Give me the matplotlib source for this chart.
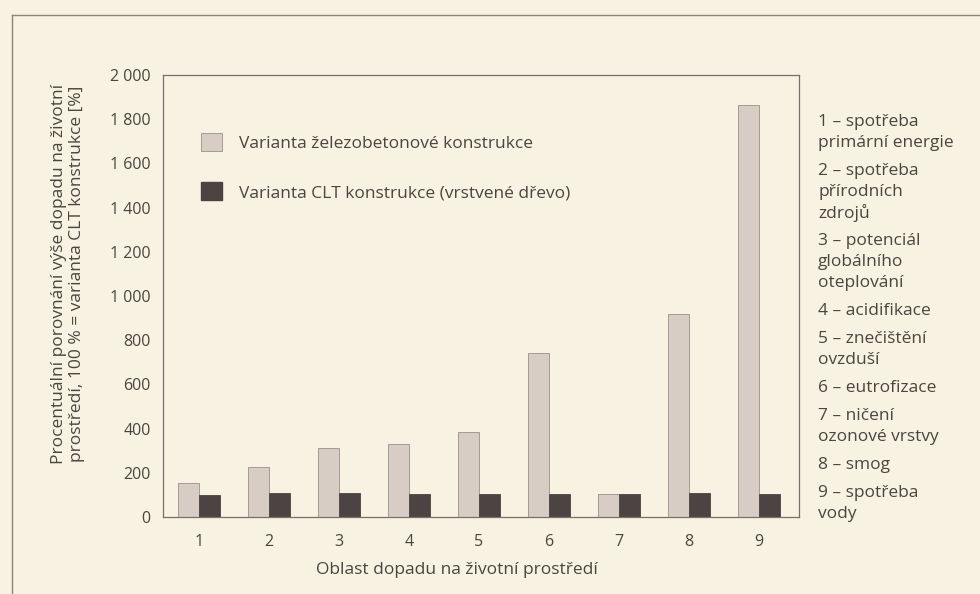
import matplotlib
matplotlib.use("Agg")
import matplotlib.pyplot as plt
import numpy as np
from matplotlib.patches import Patch
from matplotlib.lines import Line2D

categories = [1, 2, 3, 4, 5, 6, 7, 8, 9]
zelezobeton = [154, 226, 312, 330, 385, 742, 104, 918, 1864]
clt = [100, 108, 108, 106, 106, 106, 104, 108, 106]
y_ticks = [0, 200, 400, 600, 800, 1000, 1200, 1400, 1600, 1800, 2000]
y_tick_labels = ["0", "200", "400", "600", "800", "1 000", "1 200", "1 400",
                 "1 600", "1 800", "2 000"]
series_names = ["Varianta železobetonové konstrukce",
                "Varianta CLT konstrukce (vrstvené dřevo)"]
side_notes = [
    ["1 – spotřeba", "primární energie"],
    ["2 – spotřeba", "přírodních", "zdrojů"],
    ["3 – potenciál", "globálního", "oteplování"],
    ["4 – acidifikace"],
    ["5 – znečištění", "ovzduší"],
    ["6 – eutrofizace"],
    ["7 – ničení", "ozonové vrstvy"],
    ["8 – smog"],
    ["9 – spotřeba", "vody"],
]

plt.rcParams['font.family'] = ['Open Sans', 'DejaVu Sans']

bg = "#f7f2e1"
txt = "#4a4540"
spine_c = "#77716a"
light = "#d8cdc5"
light_edge = "#9a8f88"
dark = "#4b4442"
fs = 12.5

W, H = 980, 594
fig = plt.figure(figsize=(W / 100, H / 100), dpi=100, facecolor=bg)

# outer frame (only left and top are visible)
fig.add_artist(Line2D([12 / W, 12 / W], [0, 1 - 15 / H], transform=fig.transFigure,
                      color="#8a847c", lw=1))
fig.add_artist(Line2D([12 / W, 1], [1 - 15 / H, 1 - 15 / H], transform=fig.transFigure,
                      color="#8a847c", lw=1))

ax = fig.add_axes([163 / W, (H - 517) / H, 636 / W, 442 / H])
ax.set_facecolor(bg)

x = np.array(categories)
w = 0.3
ax.bar(x - w / 2, zelezobeton, w, color=light, edgecolor=light_edge, linewidth=0.6)
ax.bar(x + w / 2, clt, w, color=dark, edgecolor=dark, linewidth=0.6)

ax.set_xlim(0.486, 9.57)
ax.set_ylim(0, 2000)
ax.set_xticks(categories)
ax.set_xticklabels([str(c) for c in categories])
ax.set_yticks(y_ticks)
ax.set_yticklabels(y_tick_labels)
ax.tick_params(length=0, labelsize=11.5, colors=txt)
ax.tick_params(axis='y', pad=9)
ax.tick_params(axis='x', pad=12)
for s in ax.spines.values():
    s.set_color(spine_c)
    s.set_linewidth(0.9)

ax.set_xlabel("Oblast dopadu na životní prostředí", fontsize=fs, color=txt)
ax.xaxis.set_label_coords((457 - 163) / 636, -(570 - 517) / 442)
ax.xaxis.label.set_va("center")
ax.set_ylabel("Procentuální porovnání výše dopadu na životní\n"
              "prostředí, 100 % = varianta CLT konstrukce [%]",
              fontsize=fs, color=txt, linespacing=1.15)
ax.yaxis.set_label_coords(-(163 - 68) / 636, (517 - 274) / 442)
ax.yaxis.label.set_va("center")

handles = [Patch(facecolor=light, edgecolor=light_edge, linewidth=0.6),
           Patch(facecolor=dark, edgecolor=dark)]
leg = ax.legend(handles, series_names, loc="upper left", bbox_to_anchor=(0.035, 0.905),
                frameon=False, fontsize=fs, handlelength=1.2, handleheight=1.25,
                labelspacing=1.75, handletextpad=1.0)
for t in leg.get_texts():
    t.set_color(txt)

# side notes on the right
y = 122
for note in side_notes:
    for line in note:
        fig.text(818 / W, 1 - y / H, line, fontsize=fs, color=txt, va="center", ha="left")
        y += 21
    y += 7

fig.savefig("out.png", dpi=100, facecolor=bg)
